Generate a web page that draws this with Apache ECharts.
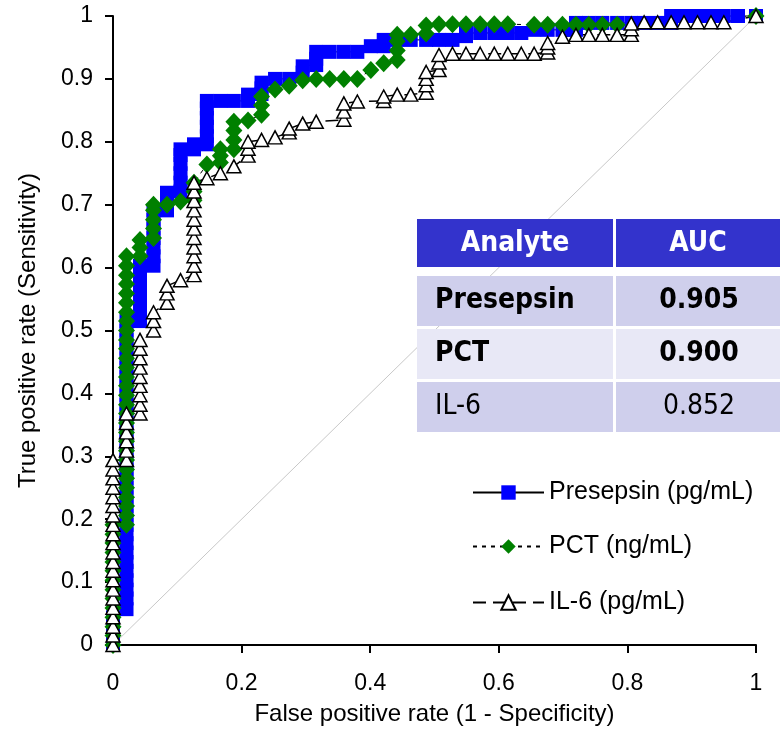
<!DOCTYPE html>
<html lang="en">
<head>
    <meta charset="UTF-8">
    <title>ROC curves</title>
    <script src="https://cdn.jsdelivr.net/npm/echarts@6/dist/echarts.min.js"></script>
    <style>
        html, body { margin: 0; padding: 0; background: #fff; }
        #container { width: 780px; height: 731px; }
    </style>
</head>
<body>
<div id="container"></div>

<script type="text/javascript">
    // ROC points [1 - specificity, sensitivity]
    var presepsin = [
        [0, 0], [0, 0.015], [0, 0.029], [0, 0.044],
        [0.021, 0.057], [0.021, 0.074], [0.021, 0.088], [0.021, 0.103], [0.021, 0.118], [0.021, 0.132],
        [0.021, 0.147], [0.021, 0.162], [0.021, 0.176], [0.021, 0.191], [0.021, 0.206], [0.021, 0.221],
        [0.021, 0.235], [0.021, 0.25], [0.021, 0.265], [0.021, 0.279], [0.021, 0.294], [0.021, 0.309],
        [0.021, 0.324], [0.021, 0.338], [0.021, 0.353], [0.021, 0.368], [0.021, 0.382], [0.021, 0.397],
        [0.021, 0.412], [0.021, 0.426], [0.021, 0.441], [0.021, 0.456], [0.021, 0.471], [0.021, 0.485],
        [0.021, 0.5], [0.021, 0.515],
        [0.042, 0.515], [0.042, 0.529], [0.042, 0.544], [0.042, 0.559], [0.042, 0.574], [0.042, 0.588], [0.042, 0.603],
        [0.063, 0.603], [0.063, 0.618], [0.063, 0.632], [0.063, 0.647], [0.063, 0.662], [0.063, 0.676], [0.063, 0.691],
        [0.084, 0.691], [0.084, 0.706], [0.084, 0.719],
        [0.105, 0.721], [0.105, 0.735], [0.105, 0.75], [0.105, 0.765], [0.105, 0.779], [0.105, 0.788],
        [0.126, 0.788], [0.126, 0.796],
        [0.146, 0.796], [0.146, 0.809], [0.146, 0.824], [0.146, 0.838], [0.146, 0.853], [0.146, 0.865],
        [0.167, 0.865], [0.188, 0.865],
        [0.21, 0.865], [0.21, 0.875],
        [0.231, 0.876], [0.231, 0.885], [0.231, 0.894],
        [0.252, 0.9], [0.274, 0.9],
        [0.295, 0.91], [0.295, 0.92],
        [0.316, 0.922], [0.316, 0.932], [0.316, 0.943],
        [0.337, 0.943], [0.359, 0.943], [0.38, 0.943],
        [0.401, 0.952],
        [0.421, 0.952], [0.421, 0.962],
        [0.442, 0.962], [0.463, 0.962], [0.487, 0.962], [0.507, 0.962], [0.528, 0.962],
        [0.549, 0.968], [0.549, 0.973],
        [0.571, 0.973], [0.593, 0.973], [0.614, 0.973], [0.635, 0.973],
        [0.655, 0.978], [0.676, 0.978], [0.699, 0.978],
        [0.72, 0.978], [0.72, 0.989],
        [0.74, 0.989], [0.761, 0.989], [0.784, 0.989], [0.806, 0.989], [0.826, 0.989], [0.847, 0.989],
        [0.868, 0.989], [0.868, 1],
        [0.888, 1], [0.909, 1], [0.93, 1], [0.95, 1], [0.972, 1], [1, 1]
    ];

    var pct = [
        [0, 0], [0, 0.015], [0, 0.029], [0, 0.044], [0, 0.059], [0, 0.074], [0, 0.088], [0, 0.103],
        [0, 0.118], [0, 0.132], [0, 0.147], [0, 0.162], [0, 0.176], [0, 0.191],
        [0.021, 0.191], [0.021, 0.206], [0.021, 0.221], [0.021, 0.235], [0.021, 0.25], [0.021, 0.265],
        [0.021, 0.279], [0.021, 0.294], [0.021, 0.309], [0.021, 0.324], [0.021, 0.338], [0.021, 0.353],
        [0.021, 0.368], [0.021, 0.382], [0.021, 0.397], [0.021, 0.412], [0.021, 0.426], [0.021, 0.441],
        [0.021, 0.456], [0.021, 0.471], [0.021, 0.485], [0.021, 0.5], [0.021, 0.515], [0.021, 0.529],
        [0.021, 0.544], [0.021, 0.559], [0.021, 0.574], [0.021, 0.588], [0.021, 0.603], [0.021, 0.618],
        [0.042, 0.618], [0.042, 0.632], [0.042, 0.644],
        [0.063, 0.647], [0.063, 0.662], [0.063, 0.676], [0.063, 0.691], [0.063, 0.7],
        [0.084, 0.7], [0.105, 0.705],
        [0.126, 0.707], [0.126, 0.721], [0.126, 0.735],
        [0.146, 0.764],
        [0.167, 0.767], [0.167, 0.778], [0.167, 0.788],
        [0.188, 0.788], [0.188, 0.803], [0.188, 0.818], [0.188, 0.832],
        [0.21, 0.834],
        [0.231, 0.843], [0.231, 0.858], [0.231, 0.872],
        [0.252, 0.883], [0.274, 0.889], [0.295, 0.898],
        [0.316, 0.9], [0.337, 0.9], [0.359, 0.9], [0.38, 0.9],
        [0.401, 0.914], [0.421, 0.925],
        [0.442, 0.93], [0.442, 0.945], [0.442, 0.96], [0.442, 0.97],
        [0.463, 0.97],
        [0.487, 0.972], [0.487, 0.985],
        [0.507, 0.987], [0.528, 0.987], [0.549, 0.987], [0.571, 0.987], [0.593, 0.987], [0.614, 0.987],
        [0.655, 0.986], [0.676, 0.986], [0.699, 0.986], [0.72, 0.986], [0.74, 0.986], [0.761, 0.986], [0.784, 0.986],
        [1, 1]
    ];

    var il6 = [
        [0, 0], [0, 0.015], [0, 0.029], [0, 0.044], [0, 0.059], [0, 0.074], [0, 0.088], [0, 0.103],
        [0, 0.118], [0, 0.132], [0, 0.147], [0, 0.162], [0, 0.176], [0, 0.191], [0, 0.206], [0, 0.221],
        [0, 0.235], [0, 0.25], [0, 0.265], [0, 0.279], [0, 0.294],
        [0.021, 0.294], [0.021, 0.309], [0.021, 0.324], [0.021, 0.338], [0.021, 0.353], [0.021, 0.368],
        [0.042, 0.368], [0.042, 0.382], [0.042, 0.397], [0.042, 0.412], [0.042, 0.426], [0.042, 0.441],
        [0.042, 0.456], [0.042, 0.471], [0.042, 0.485],
        [0.063, 0.5], [0.063, 0.515], [0.063, 0.529],
        [0.084, 0.544], [0.084, 0.559], [0.084, 0.571],
        [0.105, 0.58],
        [0.126, 0.588], [0.126, 0.603], [0.126, 0.618], [0.126, 0.632], [0.126, 0.647], [0.126, 0.662],
        [0.126, 0.676], [0.126, 0.691], [0.126, 0.706], [0.126, 0.721], [0.126, 0.735],
        [0.146, 0.742], [0.167, 0.75], [0.188, 0.761],
        [0.21, 0.778], [0.21, 0.789], [0.21, 0.8],
        [0.231, 0.803], [0.252, 0.807],
        [0.274, 0.815], [0.274, 0.821],
        [0.295, 0.829], [0.316, 0.832],
        [0.359, 0.835], [0.359, 0.848], [0.359, 0.861],
        [0.38, 0.864],
        [0.421, 0.865], [0.421, 0.872],
        [0.442, 0.875], [0.463, 0.875],
        [0.487, 0.878], [0.487, 0.89], [0.487, 0.9], [0.487, 0.911],
        [0.507, 0.914], [0.507, 0.926], [0.507, 0.938],
        [0.528, 0.94], [0.549, 0.94], [0.571, 0.94], [0.593, 0.94], [0.614, 0.94], [0.635, 0.94], [0.655, 0.94],
        [0.676, 0.942], [0.676, 0.95], [0.676, 0.957],
        [0.699, 0.967],
        [0.72, 0.97], [0.74, 0.97], [0.761, 0.97], [0.784, 0.97],
        [0.806, 0.97], [0.806, 0.979], [0.806, 0.988],
        [0.826, 0.99], [0.847, 0.99], [0.868, 0.99], [0.888, 0.99], [0.909, 0.99], [0.93, 0.99], [0.95, 0.99],
        [1, 1]
    ];

    var chance = [[0, 0], [1, 1]];

    var seriesNames = ['Presepsin (pg/mL)', 'PCT (ng/mL)', 'IL-6 (pg/mL)'];
    var xTickLabels = ['0', '0.2', '0.4', '0.6', '0.8', '1'];
    var yTickLabels = ['0', '0.1', '0.2', '0.3', '0.4', '0.5', '0.6', '0.7', '0.8', '0.9', '1'];
    var tableHeader = ['Analyte', 'AUC'];
    var tableAnalytes = ['Presepsin', 'PCT', 'IL-6'];
    var tableAuc = ['0.905', '0.900', '0.852'];
    var tableBold = [true, true, false];

    var sansFont = "'Liberation Sans', Arial, sans-serif";
    var tableFont = "'DejaVu Sans Condensed', 'DejaVu Sans', Verdana, sans-serif";

    // table layout (pixels)
    var colX = [417, 616];
    var colW = [196, 164];
    var rowFill = ['#cfcfec', '#e8e8f6', '#cfcfec'];
    var tableEls = [];
    for (var c = 0; c < 2; c++) {
        tableEls.push({
            type: 'rect', z: 100,
            shape: { x: colX[c], y: 219, width: colW[c], height: 48 },
            style: { fill: '#3333cc' }
        });
        tableEls.push({
            type: 'text', z: 101,
            x: colX[c] + colW[c] / 2, y: 244,
            style: {
                text: tableHeader[c], fill: '#fff', fontSize: 28, fontWeight: 'bold', fontFamily: tableFont,
                textAlign: 'center', textVerticalAlign: 'middle', verticalAlign: 'middle'
            }
        });
    }
    for (var r = 0; r < tableAnalytes.length; r++) {
        var rowTop = 276 + r * 53;
        for (var c2 = 0; c2 < 2; c2++) {
            tableEls.push({
                type: 'rect', z: 100,
                shape: { x: colX[c2], y: rowTop, width: colW[c2], height: 50 },
                style: { fill: rowFill[r] }
            });
        }
        var weight = tableBold[r] ? 'bold' : 'normal';
        tableEls.push({
            type: 'text', z: 101,
            x: 435, y: rowTop + 25,
            style: {
                text: tableAnalytes[r], fill: '#000', fontSize: 28, fontWeight: weight, fontFamily: tableFont,
                textAlign: 'left', textVerticalAlign: 'middle', verticalAlign: 'middle'
            }
        });
        tableEls.push({
            type: 'text', z: 101,
            x: 699, y: rowTop + 25,
            style: {
                text: tableAuc[r], fill: '#000', fontSize: 28, fontWeight: weight, fontFamily: tableFont,
                textAlign: 'center', textVerticalAlign: 'middle', verticalAlign: 'middle'
            }
        });
    }

    var legendTops = [480, 534, 590];
    var legends = seriesNames.map(function (name, i) {
        return {
            data: [name],
            left: 472,
            top: legendTops[i],
            padding: 0,
            itemWidth: 71,
            itemHeight: 18,
            selectedMode: false,
            textStyle: { fontSize: 25, fontFamily: sansFont, color: '#000' }
        };
    });

    var dom = document.getElementById('container');
    var myChart = echarts.init(dom, null, { renderer: 'canvas' });

    var option = {
        animation: false,
        backgroundColor: '#fff',
        grid: { left: 113, right: 24, top: 16, bottom: 84 },
        legend: legends,
        xAxis: {
            type: 'value', min: 0, max: 1, interval: 0.2,
            name: 'False positive rate (1 - Specificity)',
            nameLocation: 'middle', nameGap: 57,
            nameTextStyle: { fontSize: 24, fontFamily: sansFont, color: '#000' },
            axisLine: { show: true, lineStyle: { color: '#000', width: 2 } },
            axisTick: { show: true, length: 8, lineStyle: { color: '#000', width: 2 } },
            axisLabel: {
                margin: 27, fontSize: 23, fontFamily: sansFont, color: '#000',
                formatter: function (v) { return xTickLabels[Math.round(v / 0.2)]; }
            },
            splitLine: { show: false }
        },
        yAxis: {
            type: 'value', min: 0, max: 1, interval: 0.1,
            name: 'True positive rate (Sensitivity)',
            nameLocation: 'middle', nameGap: 73, nameRotate: 90,
            nameTextStyle: { fontSize: 24, fontFamily: sansFont, color: '#000' },
            axisLine: { show: true, lineStyle: { color: '#000', width: 2 } },
            axisTick: { show: true, length: 8, lineStyle: { color: '#000', width: 2 } },
            axisLabel: {
                margin: 20, fontSize: 23, fontFamily: sansFont, color: '#000',
                formatter: function (v) { return yTickLabels[Math.round(v / 0.1)]; }
            },
            splitLine: { show: false }
        },
        series: [
            {
                name: 'chance', type: 'line', data: chance, symbol: 'none', silent: true,
                lineStyle: { color: '#c8c8c8', width: 1 }
            },
            {
                name: seriesNames[0], type: 'line', data: presepsin, clip: false,
                symbol: 'rect', symbolSize: 14,
                itemStyle: { color: '#0000ff' },
                lineStyle: { color: '#000', width: 1, type: 'solid' }
            },
            {
                name: seriesNames[1], type: 'line', data: pct, clip: false,
                symbol: 'diamond', symbolSize: [17, 18],
                itemStyle: { color: '#008000' },
                lineStyle: { color: '#000', width: 1, type: [4, 5] }
            },
            {
                name: seriesNames[2], type: 'line', data: il6, clip: false,
                symbol: 'triangle', symbolSize: [14, 13],
                itemStyle: { color: '#fff', borderColor: '#000', borderWidth: 1.5 },
                lineStyle: { color: '#000', width: 1.5, type: [13, 7] }
            }
        ],
        graphic: { elements: tableEls }
    };

    if (option && typeof option === 'object') {
        myChart.setOption(option);
    }

    window.addEventListener('resize', myChart.resize);
</script>
</body>
</html>
